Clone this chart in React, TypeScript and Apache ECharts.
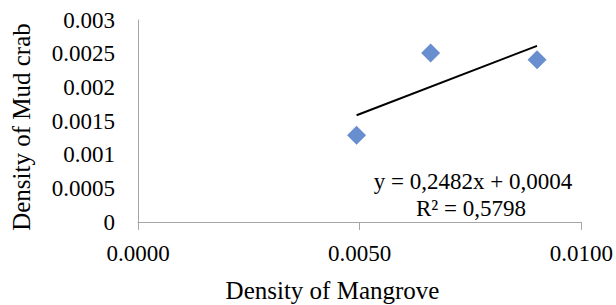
import React, { useEffect, useRef } from "react";
import * as echarts from "echarts";

const mangrove = [0.00493, 0.0066, 0.009];
const mudCrab = [0.00129, 0.00251, 0.00241];
const xTicks = [0, 0.005, 0.01];
const yTicks = [0, 0.0005, 0.001, 0.0015, 0.002, 0.0025, 0.003];
const xTitle = "Density of Mangrove";
const yTitle = "Density of Mud crab";
const equationText = "y = 0,2482x + 0,0004";
const r2Text = "R² = 0,5798";

function fit(xs: number[], ys: number[]) {
  const n = xs.length;
  const mx = xs.reduce((a, b) => a + b, 0) / n;
  const my = ys.reduce((a, b) => a + b, 0) / n;
  let sxy = 0;
  let sxx = 0;
  for (let i = 0; i < n; i++) {
    sxy += (xs[i] - mx) * (ys[i] - my);
    sxx += (xs[i] - mx) * (xs[i] - mx);
  }
  const slope = sxy / sxx;
  return { slope, intercept: my - slope * mx };
}

const FAMILY = "Liberation Serif";
const FONT = "'Liberation Serif', serif";

export default function App() {
  const ref = useRef<HTMLDivElement>(null);
  useEffect(() => {
    if (!ref.current) return;
    const chart = echarts.init(ref.current, undefined, { renderer: "svg" });
    const { slope, intercept } = fit(mangrove, mudCrab);
    const xMin = Math.min(...mangrove);
    const xMax = Math.max(...mangrove);
    const trend = [
      [xMin, intercept + slope * xMin],
      [xMax, intercept + slope * xMax],
    ];
    chart.setOption({
      animation: false,
      backgroundColor: "#ffffff",
      textStyle: { fontFamily: FAMILY },
      grid: { left: 138, right: 34, top: 20, bottom: 83, containLabel: false },
      xAxis: {
        type: "value",
        min: xTicks[0],
        max: xTicks[xTicks.length - 1],
        interval: xTicks[1] - xTicks[0],
        splitLine: { show: false },
        axisLine: { show: true, onZero: false, lineStyle: { color: "#a6a6a6", width: 1 } },
        axisTick: { show: true, length: 8, lineStyle: { color: "#a6a6a6" } },
        axisLabel: {
          margin: 20,
          color: "#000",
          fontFamily: FAMILY,
          fontSize: 23,
          formatter: (v: number) => v.toFixed(4),
        },
      },
      yAxis: {
        type: "value",
        min: yTicks[0],
        max: yTicks[yTicks.length - 1],
        interval: yTicks[1] - yTicks[0],
        splitLine: { show: false },
        axisLine: { show: true, lineStyle: { color: "#a6a6a6", width: 1 } },
        axisTick: { show: false },
        axisLabel: {
          margin: 23,
          color: "#000",
          fontFamily: FAMILY,
          fontSize: 23,
          formatter: (v: number) => String(Number(v.toFixed(4))),
        },
      },
      graphic: [
        {
          type: "text",
          x: 332.5,
          y: 290,
          style: {
            text: xTitle,
            fill: "#000",
            font: `25px ${FONT}`,
            textAlign: "center",
            textVerticalAlign: "middle",
          },
        },
        {
          type: "text",
          x: 21,
          y: 127,
          rotation: Math.PI / 2,
          style: {
            text: yTitle,
            fill: "#000",
            font: `25px ${FONT}`,
            textAlign: "center",
            textVerticalAlign: "middle",
          },
        },
        {
          type: "text",
          x: 473,
          y: 181,
          style: {
            text: equationText,
            fill: "#000",
            font: `23px ${FONT}`,
            textAlign: "center",
            textVerticalAlign: "middle",
          },
        },
        {
          type: "text",
          x: 471,
          y: 208,
          style: {
            text: r2Text,
            fill: "#000",
            font: `23px ${FONT}`,
            textAlign: "center",
            textVerticalAlign: "middle",
          },
        },
      ],
      series: [
        {
          type: "line",
          data: trend,
          showSymbol: false,
          symbol: "none",
          lineStyle: { color: "#000", width: 2 },
          silent: true,
          z: 2,
        },
        {
          type: "scatter",
          data: mangrove.map((x, i) => [x, mudCrab[i]]),
          symbol: "diamond",
          symbolSize: 19,
          itemStyle: { color: "#4472C4" },
          z: 3,
        },
      ],
    });
    return () => chart.dispose();
  }, []);
  return (
    <div
      ref={ref}
      style={{ position: "fixed", left: 0, top: 0, width: 616, height: 305 }}
    />
  );
}
